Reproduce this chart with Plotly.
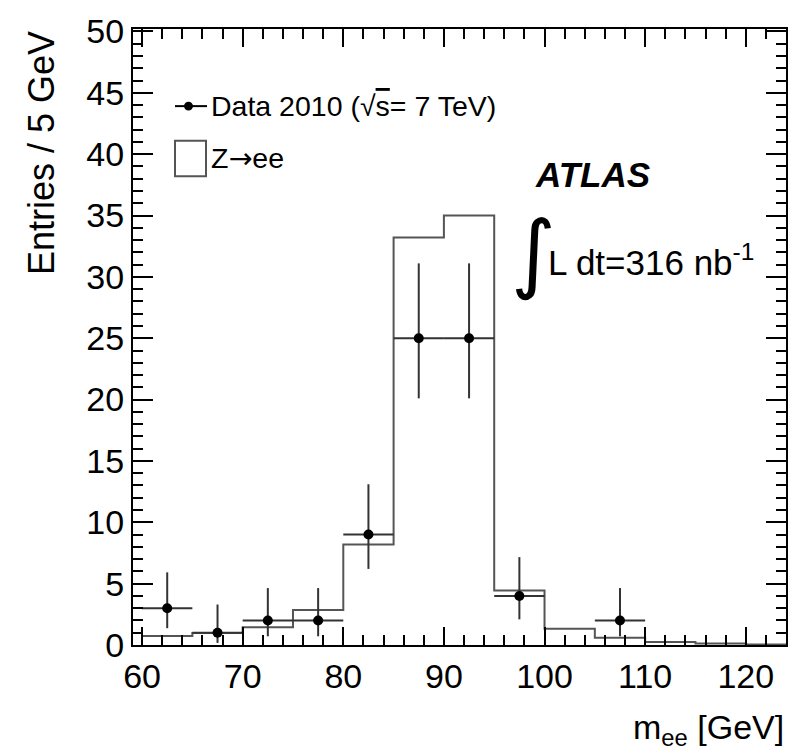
import plotly.graph_objects as go

# ---- data ----
mc_centers = [62.5, 67.5, 72.5, 77.5, 82.5, 87.5, 92.5, 97.5, 102.5, 107.5, 112.5, 117.5, 122.5]
mc_values = [0.73, 0.97, 1.45, 2.85, 8.2, 33.2, 35.0, 4.45, 1.32, 0.6, 0.25, 0.12, 0.05]
bin_width = 5.0

data_centers = [62.5, 67.5, 72.5, 77.5, 82.5, 87.5, 92.5, 97.5, 107.5]
data_values = [3, 1, 2, 2, 9, 25, 25, 4, 2]
data_err_up = [2.92, 2.30, 2.64, 2.64, 4.1, 6.1, 6.1, 3.16, 2.64]
data_err_down = [1.63, 0.83, 1.29, 1.29, 2.8, 4.9, 4.9, 1.91, 1.29]

x_ticks = [60, 70, 80, 90, 100, 110, 120]
y_ticks = [0, 5, 10, 15, 20, 25, 30, 35, 40, 45, 50]

# ---- layout geometry (pixels) ----
W, H = 812, 752
ML, MR, MT, MB = 133, 26, 22, 107
PW, PH = W - ML - MR, H - MT - MB


def px(x):
    return (x - ML) / PW


def py(y):
    return (H - MB - y) / PH


FONT = "Liberation Sans, Arial, Helvetica, sans-serif"

# histogram step outline from bin centers
edges = [c - bin_width / 2 for c in mc_centers] + [mc_centers[-1] + bin_width / 2]
steps = mc_values + [mc_values[-1]]

fig = go.Figure()
fig.add_trace(go.Scatter(
    x=edges, y=steps, mode="lines", line_shape="hv",
    line=dict(color="#555555", width=2), showlegend=False, hoverinfo="skip",
))
fig.add_trace(go.Scatter(
    x=data_centers, y=data_values, mode="markers",
    marker=dict(color="black", size=10),
    error_y=dict(type="data", symmetric=False, array=data_err_up, arrayminus=data_err_down,
                 color="#333333", thickness=2, width=0),
    error_x=dict(type="constant", value=bin_width / 2, color="#333333", thickness=2, width=0),
    showlegend=False, hoverinfo="skip",
))

axis_common = dict(
    showgrid=False, zeroline=False, showline=True, linecolor="black", linewidth=2,
    mirror="allticks", ticks="inside", tickcolor="black", tickwidth=2,
    tickfont=dict(family=FONT, size=34, color="black"),
)

fig.update_xaxes(range=[59.1, 124.0], tickvals=x_ticks, ticklen=18,
                 minor=dict(dtick=2, tick0=60, ticklen=10, ticks="inside", tickcolor="black", tickwidth=2),
                 **axis_common)
fig.update_yaxes(range=[0, 50.2], tickvals=y_ticks, ticklen=20,
                 minor=dict(dtick=1, tick0=0, ticklen=10, ticks="inside", tickcolor="black", tickwidth=2),
                 **axis_common)

shapes = [
    # legend: data marker line
    dict(type="line", xref="paper", yref="paper", x0=px(175), x1=px(207), y0=py(100), y1=py(100),
         line=dict(color="black", width=2)),
    dict(type="circle", xref="paper", yref="paper", x0=px(184), x1=px(193), y0=py(104.5), y1=py(95.5),
         fillcolor="black", line=dict(color="black", width=0)),
    # legend: MC box
    dict(type="rect", xref="paper", yref="paper", x0=px(175), x1=px(206), y0=py(171), y1=py(135),
         line=dict(color="#555555", width=2), fillcolor="rgba(0,0,0,0)"),
]

annotations = [
    dict(text="Data 2010 (√<span style='text-decoration:overline'>s</span>= 7 TeV)",
         x=px(209), y=py(100), xref="paper", yref="paper", xanchor="left", yanchor="middle",
         showarrow=False, font=dict(family=FONT, size=28.5, color="black")),
    dict(text="Z<span style='font-family:DejaVu Sans'>→</span>ee", x=px(209), y=py(153),
         xref="paper", yref="paper", xanchor="left", yanchor="middle",
         showarrow=False, font=dict(family=FONT, size=28.5, color="black")),
    dict(text="<b><i>ATLAS</i></b>", x=px(592), y=py(169), xref="paper", yref="paper",
         xanchor="center", yanchor="middle", showarrow=False,
         font=dict(family=FONT, size=35, color="black")),
    dict(text="∫", x=px(533), y=py(248), xref="paper", yref="paper", xanchor="center", yanchor="middle",
         showarrow=False, font=dict(family="DejaVu Sans", size=86, color="black")),
    dict(text="L dt=316 nb<sup>-1</sup>", x=px(546), y=py(256), xref="paper", yref="paper",
         xanchor="left", yanchor="middle", showarrow=False,
         font=dict(family=FONT, size=35, color="black")),
    dict(text="Entries / 5 GeV", x=px(41), y=1.0, xref="paper", yref="paper", textangle=-90,
         xanchor="center", yanchor="top", showarrow=False,
         font=dict(family=FONT, size=36, color="black")),
    dict(text="m<sub>ee</sub> [GeV]", x=1.0, y=py(730), xref="paper", yref="paper",
         xanchor="right", yanchor="middle", showarrow=False,
         font=dict(family=FONT, size=34, color="black")),
]

fig.update_layout(
    width=W, height=H,
    margin=dict(l=ML, r=MR, t=MT, b=MB),
    paper_bgcolor="white", plot_bgcolor="white",
    showlegend=False, shapes=shapes, annotations=annotations,
)

fig.write_html("out.html")
